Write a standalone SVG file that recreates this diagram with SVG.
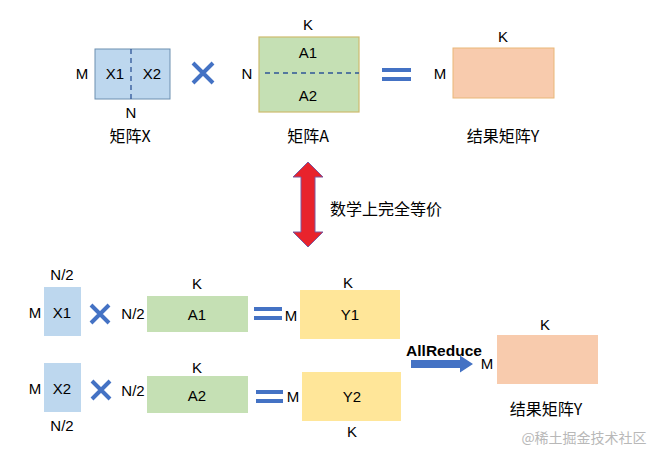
<svg xmlns="http://www.w3.org/2000/svg" width="650" height="450" viewBox="0 0 650 450">
<style>
text{font-family:"Liberation Sans","Noto Sans CJK SC",sans-serif;font-size:15px;fill:#000;text-anchor:middle;dominant-baseline:central}
.cn{font-family:"Noto Sans CJK SC","Liberation Sans",sans-serif;font-size:16px}
.x{fill:#BDD7EE}
.a{fill:#C5E0B4}
.y{fill:#FFE699}
.r{fill:#F8CBAD}
.mul{stroke:#4472C4;stroke-width:4;fill:none}
.eq{fill:#4472C4}
.dash{stroke:#2F5597;stroke-width:1.3;stroke-dasharray:5,4;fill:none}
</style>
<rect width="650" height="450" fill="#fff"/>
<g id="matrixX">
<rect class="x" x="95" y="49" width="75" height="50" stroke="#6D8FB0" stroke-width="1"/>
<line class="dash" x1="131" y1="49" x2="131" y2="99"/>
<text x="115" y="73">X1</text><text x="152" y="73">X2</text>
<text x="82" y="73">M</text><text x="131" y="112">N</text>
<text class="cn" x="130" y="135">矩阵X</text>
</g>
<g id="mul-top"><path class="mul" d="M193 63 L213 83 M213 63 L193 83"/></g>
<g id="matrixA">
<rect class="a" x="259" y="37" width="100" height="75" stroke="#CDBB6E" stroke-width="1.2"/>
<line class="dash" x1="265" y1="73" x2="359" y2="73"/>
<text x="308" y="52">A1</text><text x="308" y="95">A2</text>
<text x="308" y="24">K</text><text x="247" y="73">N</text>
<text class="cn" x="308" y="135">矩阵A</text>
</g>
<g id="eq-top"><rect class="eq" x="382" y="68" width="29" height="4"/><rect class="eq" x="382" y="77" width="29" height="4"/></g>
<g id="resultY-top">
<rect class="r" x="453" y="48" width="101" height="50" stroke="#E9B778" stroke-width="1"/>
<text x="503" y="36">K</text><text x="440" y="73">M</text>
<text class="cn" x="503" y="135">结果矩阵Y</text>
</g>
<g id="equiv">
<path d="M308 162 L323 177 L315 177 L315 232 L323 232 L308 247 L293 232 L301 232 L301 177 L293 177 Z" fill="#E8232C" stroke="#7B5AA0" stroke-width="1"/>
<text class="cn" x="386" y="208" style="font-size:16px">数学上完全等价</text>
</g>
<g id="X1">
<rect class="x" x="44" y="287" width="37" height="49"/>
<text x="62" y="312">X1</text><text x="62" y="274">N/2</text><text x="35" y="312">M</text>
</g>
<g id="mul-1"><path class="mul" d="M91 305 L109 323 M109 305 L91 323"/></g>
<g id="A1">
<text x="133" y="313">N/2</text>
<rect class="a" x="147" y="296" width="101" height="36"/>
<text x="197" y="314">A1</text><text x="197" y="283">K</text>
</g>
<g id="eq-1"><rect class="eq" x="254" y="307" width="28" height="4"/><rect class="eq" x="254" y="316" width="28" height="4"/></g>
<g id="Y1">
<text x="291" y="315">M</text>
<rect class="y" x="300" y="290" width="100" height="49"/>
<text x="350" y="314">Y1</text><text x="348" y="282">K</text>
</g>
<g id="X2">
<rect class="x" x="44" y="363" width="37" height="49"/>
<text x="62" y="388">X2</text><text x="35" y="388">M</text><text x="62" y="425">N/2</text>
</g>
<g id="mul-2"><path class="mul" d="M92 381 L110 399 M110 381 L92 399"/></g>
<g id="A2">
<text x="133" y="390">N/2</text>
<rect class="a" x="147" y="376" width="101" height="37"/>
<text x="197" y="395">A2</text><text x="197" y="367">K</text>
</g>
<g id="eq-2"><rect class="eq" x="256" y="390" width="27" height="4"/><rect class="eq" x="256" y="399" width="27" height="4"/></g>
<g id="Y2">
<text x="293" y="396">M</text>
<rect class="y" x="302" y="372" width="99" height="49"/>
<text x="352" y="396">Y2</text><text x="352" y="431">K</text>
</g>
<g id="connectors">
<path d="M411 360 L460 360 L460 355.5 L473 364 L460 372.5 L460 368 L411 368 Z" fill="#4472C4"/>
<text x="444" y="350" style="font-weight:bold;font-size:15.5px">AllReduce</text>
</g>
<g id="resultY">
<text x="487" y="363">M</text>
<rect class="r" x="497" y="335" width="101" height="49"/>
<text x="545" y="324">K</text>
<text class="cn" x="546" y="408">结果矩阵Y</text>
</g>
<text class="cn" x="584" y="437" style="fill:#B8B8B8;font-size:14px">@稀土掘金技术社区</text>
</svg>
